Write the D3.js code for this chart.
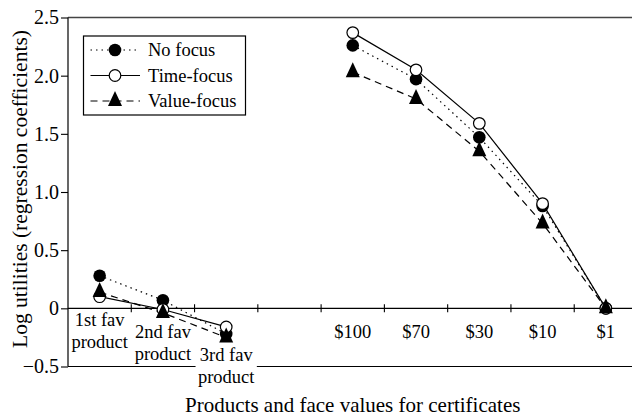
<!DOCTYPE html>
<html>
<head>
<meta charset="utf-8">
<script src="https://cdn.jsdelivr.net/npm/d3@7"></script>
<style>
  html, body { margin: 0; padding: 0; background: #fff; }
  svg { display: block; }
  text { font-family: "Liberation Serif", "Times New Roman", serif; fill: #000; }
</style>
</head>
<body>
<svg id="chart" width="632" height="416"></svg>
<script>
// ---- data ----
const categories = ["1st fav product", "2nd fav product", "3rd fav product", "", "$100", "$70", "$30", "$10", "$1"];
const noFocus    = [0.28, 0.07, -0.22, null, 2.26, 1.97, 1.47, 0.88, 0];
const timeFocus  = [0.10, -0.01, -0.16, null, 2.37, 2.05, 1.59, 0.90, 0];
const valueFocus = [0.14, -0.04, -0.25, null, 2.03, 1.80, 1.35, 0.73, 0];
const seriesNames = ["No focus", "Time-focus", "Value-focus"];
const yTicks = [-0.5, 0, 0.5, 1.0, 1.5, 2.0, 2.5];
const yTickLabels = ["\u22120.5", "0", "0.5", "1.0", "1.5", "2.0", "2.5"];
const xTitle = "Products and face values for certificates";
const yTitle = "Log utilities (regression coefficients)";

(function () {
// ---- layout ----
const svg = d3.select("#chart");
const mLeft = 68, mRight = 637.5, mTop = 17.5, mBottom = 366.5;

const x = d3.scaleBand().domain(categories).range([mLeft, mRight]).paddingInner(0).paddingOuter(0);
const y = d3.scaleLinear().domain([-0.5, 2.5]).range([mBottom, mTop]);
const cx = c => x(c) + x.bandwidth() / 2;

// frame lines
svg.append("line").attr("x1", mLeft).attr("x2", 632).attr("y1", y(2.5)).attr("y2", y(2.5))
  .attr("stroke", "#444").attr("stroke-width", 1.6);
svg.append("line").attr("x1", mLeft).attr("x2", 632).attr("y1", y(-0.5)).attr("y2", y(-0.5))
  .attr("stroke", "#000").attr("stroke-width", 1.2);

// y axis
const yAxis = d3.axisLeft(y).tickValues(yTicks).tickSize(7).tickPadding(2)
  .tickFormat((d, i) => yTickLabels[i]);
const gy = svg.append("g").attr("transform", `translate(${mLeft},0)`).call(yAxis);
gy.select(".domain").attr("stroke", "#000").attr("stroke-width", 1.2).attr("d", `M0,${y(2.5)}V${y(-0.5)}`);
gy.selectAll(".tick line").attr("stroke", "#000").attr("stroke-width", 1.1);
gy.selectAll(".tick text").style("font-family", '"Liberation Serif", serif').style("font-size", "20px").attr("fill", "#000");

// zero line with category ticks
const y0 = y(0);
svg.append("line").attr("x1", mLeft).attr("x2", 632).attr("y1", y0).attr("y2", y0)
  .attr("stroke", "#000").attr("stroke-width", 1.2);
const bounds = categories.slice(1).map(c => x(c));
svg.append("g").selectAll("line").data(bounds).join("line")
  .attr("x1", d => d).attr("x2", d => d).attr("y1", y0 - 4).attr("y2", y0 + 4)
  .attr("stroke", "#000").attr("stroke-width", 1.1);

// category labels (staggered like the original)
const catFont = 18.5;
const labelTop = { 0: 326, 1: 338, 2: 361 };
categories.forEach((c, i) => {
  if (!c) return;
  const parts = c.startsWith("$") ? [c] : [c.replace(" product", ""), "product"];
  const yy = labelTop[i] !== undefined ? labelTop[i] : 338;
  const g = svg.append("g");
  const t = g.append("text").attr("text-anchor", "middle").style("font-size", catFont + "px");
  parts.forEach((p, j) => {
    t.append("tspan").attr("x", cx(c)).attr("y", yy + j * 22).text(p);
  });
  if (i === 2) {
    const bb = t.node().getBBox();
    g.insert("rect", "text").attr("x", x(c) + 1).attr("y", bb.y - 1)
      .attr("width", x.bandwidth() - 2).attr("height", bb.height + 2).attr("fill", "#fff");
  }
});

// series
const series = [
  { name: seriesNames[0], values: noFocus,    dash: "1.5,4", marker: "filledCircle" },
  { name: seriesNames[1], values: timeFocus,  dash: null,    marker: "openCircle" },
  { name: seriesNames[2], values: valueFocus, dash: "7,5",   marker: "triangle" }
];

const line = d3.line()
  .defined(d => d.v !== null)
  .x(d => cx(d.c))
  .y(d => y(d.v));

const triType = {
  draw(ctx, size) {
    const w = 7, h = 15;
    ctx.moveTo(0, -h * 2 / 3);
    ctx.lineTo(w, h / 3);
    ctx.lineTo(-w, h / 3);
    ctx.closePath();
  }
};

function drawMarker(g, kind, px, py) {
  if (kind === "filledCircle") {
    g.append("circle").attr("cx", px).attr("cy", py).attr("r", 6.3).attr("fill", "#000");
  } else if (kind === "openCircle") {
    g.append("circle").attr("cx", px).attr("cy", py).attr("r", 5.8)
      .attr("fill", "#fff").attr("stroke", "#000").attr("stroke-width", 1.2);
  } else {
    g.append("path").attr("d", d3.symbol().type(triType)()).attr("transform", `translate(${px},${py})`)
      .attr("fill", "#000");
  }
}

// lines first
series.forEach(s => {
  const pts = categories.map((c, i) => ({ c, v: s.values[i] }));
  svg.append("path").datum(pts).attr("d", line)
    .attr("fill", "none").attr("stroke", "#000").attr("stroke-width", 1.2)
    .attr("stroke-dasharray", s.dash);
});
// markers
series.forEach(s => {
  const g = svg.append("g");
  categories.forEach((c, i) => {
    if (s.values[i] === null) return;
    drawMarker(g, s.marker, cx(c), y(s.values[i]));
  });
});

// legend
const lg = svg.append("g");
lg.append("rect").attr("x", 83.5).attr("y", 36).attr("width", 162).attr("height", 79)
  .attr("fill", "#fff").attr("stroke", "#000").attr("stroke-width", 1.2);
series.forEach((s, i) => {
  const ly = 50 + i * 25.5;
  lg.append("line").attr("x1", 90.5).attr("x2", 140).attr("y1", ly).attr("y2", ly)
    .attr("stroke", "#000").attr("stroke-width", 1.2).attr("stroke-dasharray", s.dash);
  drawMarker(lg, s.marker, 115, ly);
  lg.append("text").attr("x", 148).attr("y", ly + 6).style("font-size", "18.5px").text(s.name);
});

// axis titles
svg.append("text").attr("x", (mLeft + mRight) / 2).attr("y", 412).attr("text-anchor", "middle")
  .style("font-size", "21px").text(xTitle);
svg.append("text").attr("transform", `translate(27,189) rotate(-90)`).attr("text-anchor", "middle")
  .style("font-size", "21.5px").text(yTitle);
})();
</script>
</body>
</html>
